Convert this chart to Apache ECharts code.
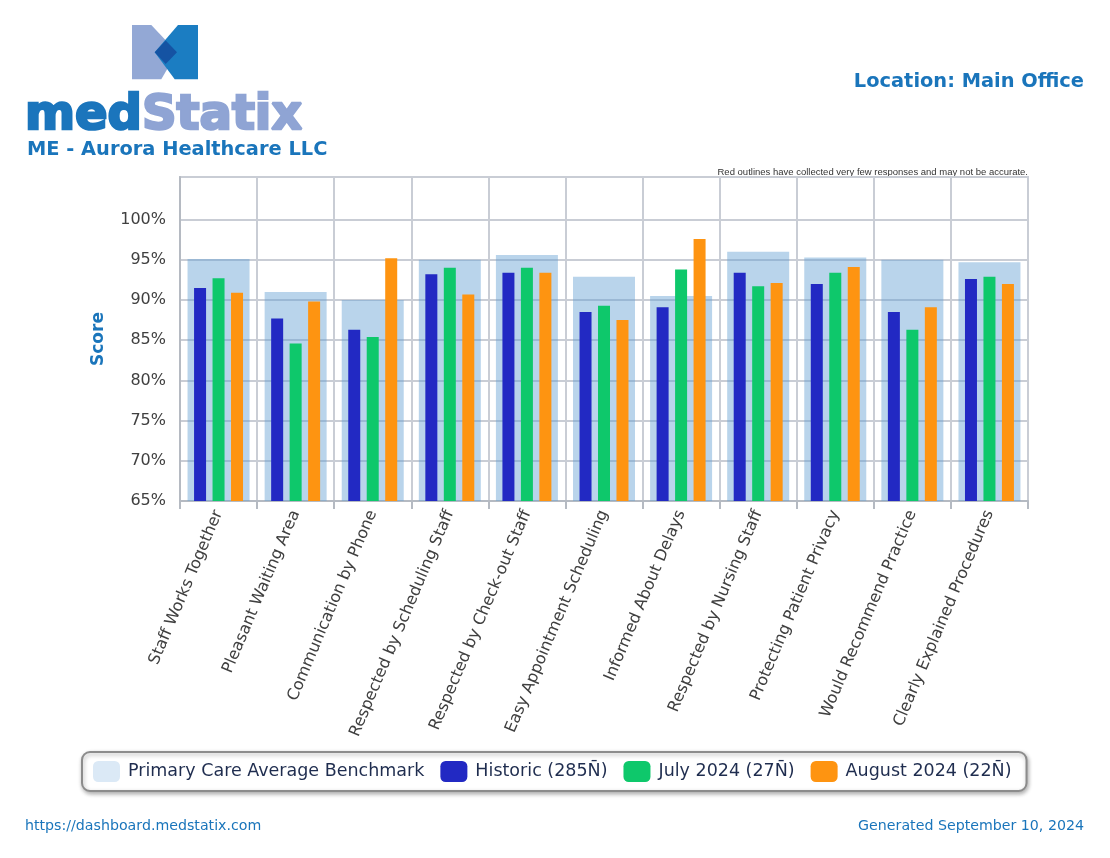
<!DOCTYPE html>
<html>
<head>
<meta charset="utf-8">
<script src="https://cdn.jsdelivr.net/npm/echarts@6/dist/echarts.min.js"></script>
<style>
html,body{margin:0;padding:0;background:#fff;}
#chart{width:1110px;height:858px;}
</style>
</head>
<body>
<div id="chart"></div>
<script>
const categories = [
  'Staff Works Together',
  'Pleasant Waiting Area',
  'Communication by Phone',
  'Respected by Scheduling Staff',
  'Respected by Check-out Staff',
  'Easy Appointment Scheduling',
  'Informed About Delays',
  'Respected by Nursing Staff',
  'Protecting Patient Privacy',
  'Would Recommend Practice',
  'Clearly Explained Procedures'
];
const seriesNames = [
  'Primary Care Average Benchmark',
  'Historic (285N\u0304)',
  'July 2024 (27N\u0304)',
  'August 2024 (22N\u0304)'
];
const benchmark = [95.1, 91.0, 90.0, 95.0, 95.6, 92.9, 90.5, 96.0, 95.3, 95.0, 94.7];
const historic  = [91.5, 87.7, 86.3, 93.2, 93.4, 88.5, 89.1, 93.4, 92.0, 88.5, 92.6];
const july2024  = [92.7, 84.6, 85.4, 94.0, 94.0, 89.3, 93.8, 91.7, 93.4, 86.3, 92.9];
const aug2024   = [90.9, 89.8, 95.2, 90.7, 93.4, 87.5, 97.6, 92.1, 94.1, 89.1, 92.0];
const yMin = 65, yMax = 105.3, yStep = 5, yTopLabel = 100;

const FONT = '"DejaVu Sans", Verdana, sans-serif';
const BLUE_TXT = '#1a75bb';
const GRID_C = '#c9cdd5';

const chart = echarts.init(document.getElementById('chart'), null, {renderer: 'canvas'});

// split line colors: hide the line at 105 (just under the top border)
const splitColors = [];
for (let v = yMin; v <= yMax; v += yStep) splitColors.push(v > yTopLabel ? 'rgba(0,0,0,0)' : GRID_C);
splitColors.push(GRID_C);

const option = {
  backgroundColor: '#ffffff',
  animation: false,
  textStyle: {fontFamily: FONT},
  grid: {
    left: 180, right: 82, top: 177, bottom: 357,
    show: true, borderColor: GRID_C, borderWidth: 2, backgroundColor: 'transparent'
  },
  legend: {
    left: 82, top: 752,
    itemWidth: 27, itemHeight: 21, itemGap: 16,
    padding: [9, 15, 9, 11],
    icon: 'roundRect',
    borderColor: '#8c8c8c', borderWidth: 2, borderRadius: 8,
    backgroundColor: '#ffffff',
    shadowBlur: 4, shadowColor: 'rgba(0,0,0,0.3)', shadowOffsetX: 1, shadowOffsetY: 2,
    textStyle: {fontSize: 17.5, color: '#1f2d4f', fontFamily: FONT, padding: [0, 0, 0, 3]},
    data: [
      {name: seriesNames[0], itemStyle: {color: '#dbe9f6'}},
      {name: seriesNames[1]},
      {name: seriesNames[2]},
      {name: seriesNames[3]}
    ]
  },
  xAxis: [
    {
      type: 'category', data: categories, boundaryGap: true,
      axisLine: {show: true, lineStyle: {color: '#b5bac2', width: 2}},
      axisTick: {show: true, length: 8, lineStyle: {color: '#b5bac2', width: 2}},
      splitLine: {show: true, lineStyle: {color: GRID_C, width: 2}},
      axisLabel: {interval: 0, rotate: 67, fontSize: 16, color: '#404040', margin: 10, fontFamily: FONT}
    },
    {
      type: 'category', data: categories, show: false, boundaryGap: true
    }
  ],
  yAxis: {
    type: 'value', min: yMin, max: yMax, interval: yStep,
    name: 'Score', nameLocation: 'middle', nameGap: 73,
    nameTextStyle: {fontSize: 17, fontWeight: 'bold', color: BLUE_TXT, fontFamily: FONT},
    axisLine: {show: true, lineStyle: {color: '#b5bac2', width: 2}},
    axisTick: {show: false},
    axisLabel: {
      fontSize: 16, color: '#404040', margin: 14, fontFamily: FONT,
      formatter: v => (v > yTopLabel ? '' : v + '%')
    },
    splitLine: {show: true, lineStyle: {color: splitColors, width: 2}}
  },
  series: [
    {
      name: seriesNames[0], type: 'bar', xAxisIndex: 1, data: benchmark,
      barWidth: 62, itemStyle: {color: 'rgba(100,160,210,0.45)'}
    },
    {
      name: seriesNames[1], type: 'bar', xAxisIndex: 0, data: historic,
      barWidth: 12, barGap: '54%', itemStyle: {color: '#2229c3'}
    },
    {
      name: seriesNames[2], type: 'bar', xAxisIndex: 0, data: july2024,
      barWidth: 12, barGap: '54%', itemStyle: {color: '#0ec86b'}
    },
    {
      name: seriesNames[3], type: 'bar', xAxisIndex: 0, data: aug2024,
      barWidth: 12, barGap: '54%', itemStyle: {color: '#fe9411'}
    }
  ],
  graphic: [
    {type: 'polygon', shape: {points: [[132,25],[151.3,25],[177,52.3],[161.3,79.3],[132,79.3]]}, style: {fill: '#93a8d5'}},
    {type: 'polygon', shape: {points: [[178,25],[198,25],[198,79.3],[174.7,79.3],[154.7,52.3]]}, style: {fill: '#1b7dc2'}},
    {type: 'polygon', shape: {points: [[154.7,52.3],[165.7,40.5],[177,52.3],[165.7,64]]}, style: {fill: '#1553a3'}},
    {type: 'text', x: 25, y: 117, style: {text: 'med', font: 'bold 48px ' + FONT, fill: '#1b75bc', stroke: '#1b75bc', lineWidth: 2.5, verticalAlign: 'middle', align: 'left'}},
    {type: 'text', x: 142, y: 117, style: {text: 'Statix', font: 'bold 48px ' + FONT, fill: '#8fa4d4', stroke: '#8fa4d4', lineWidth: 2.5, verticalAlign: 'middle', align: 'left'}},
    {type: 'text', x: 27, y: 150, style: {text: 'ME - Aurora Healthcare LLC', font: 'bold 19.4px ' + FONT, fill: BLUE_TXT, verticalAlign: 'middle', align: 'left'}},
    {type: 'text', x: 1084, y: 82, style: {text: 'Location: Main Office', font: 'bold 19.4px ' + FONT, fill: BLUE_TXT, verticalAlign: 'middle', align: 'right'}},
    {type: 'text', x: 1028, y: 172, style: {text: 'Red outlines have collected very few responses and may not be accurate.', font: '9.5px "Liberation Sans", Arial, sans-serif', fill: '#333333', verticalAlign: 'middle', align: 'right'}},
    {type: 'text', x: 25, y: 826, style: {text: 'https://dashboard.medstatix.com', font: '14.2px ' + FONT, fill: BLUE_TXT, verticalAlign: 'middle', align: 'left'}},
    {type: 'text', x: 1084, y: 826, style: {text: 'Generated September 10, 2024', font: '14.2px ' + FONT, fill: BLUE_TXT, verticalAlign: 'middle', align: 'right'}}
  ]
};
chart.setOption(option);
</script>
</body>
</html>
